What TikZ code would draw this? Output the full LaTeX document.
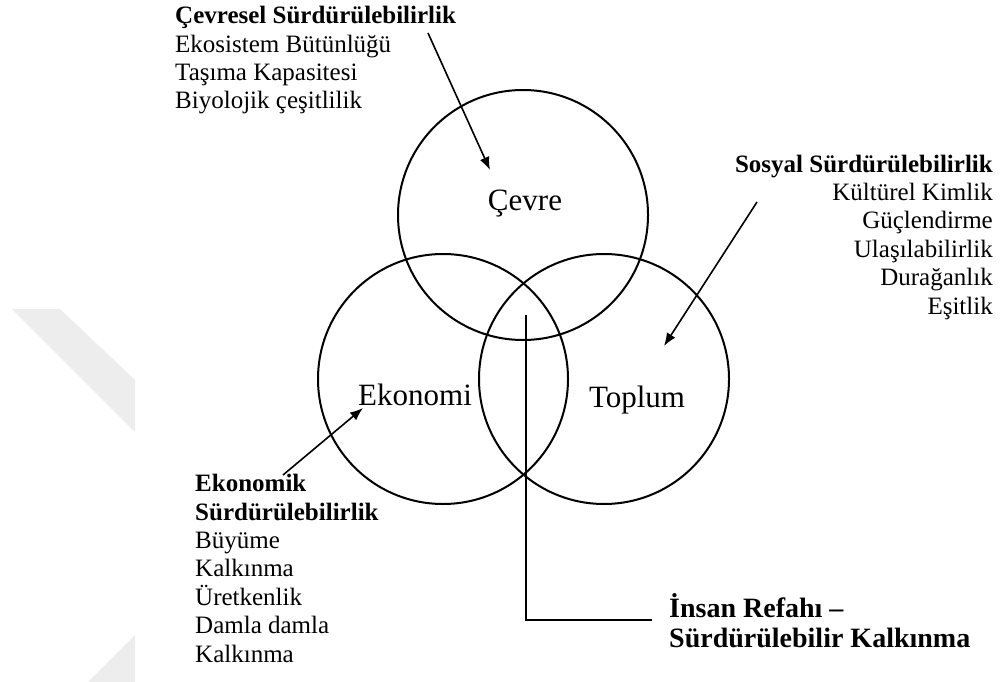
\documentclass[tikz,border=0pt]{standalone}
\usepackage{fontspec}
\setmainfont{Liberation Serif}
\usetikzlibrary{arrows.meta}
\begin{document}
\begin{tikzpicture}[x=1pt,y=-1pt]
  \definecolor{filigran}{gray}{0.93}
  \tikzstyle{halka}=[draw, circle, line width=2pt, minimum size=250pt, inner sep=0pt]
  \tikzstyle{etiket}=[font=\fontsize{31}{34}\selectfont, inner sep=0pt]
  \tikzstyle{liste}=[font=\fontsize{25}{28.4}\selectfont, inner sep=0pt]
  \tikzstyle{ok}=[-{Latex[length=13pt,width=10pt]}, line width=1.6pt]

  \useasboundingbox (0,0) rectangle (1003,682);

  % Soluk filigran, sol kenarda yarisi gorunen bir ok bicimi.
  \fill[filigran] (12,309) -- (60,309) -- (135,380) -- (135,432) -- cycle;
  \fill[filigran] (135,635) -- (88,682) -- (135,682) -- cycle;

  % Uc halka, yaricap 125, merkezler pikselden alindi.
  \node[halka] (cevre) at (523,215) {};
  \node[halka] (ekonomi) at (443,379) {};
  \node[halka] (toplum) at (604,379) {};

  \node[etiket, anchor=base] (cevrelab) at (525,210) {Çevre};
  \node[etiket, anchor=base west] (ekolab) at (358,405) {Ekonomi};
  \node[etiket, anchor=base] (toplab) at (637,407) {Toplum};

  % Yan listeler; base capasi son satirin taban cizgisinde durur.
  \node[liste, align=left, anchor=base west] (cevlist) at (175,109)
    {\textbf{Çevresel Sürdürülebilirlik}\\Ekosistem Bütünlüğü\\Taşıma Kapasitesi\\Biyolojik çeşitlilik};
  \node[liste, align=right, anchor=base east] (soslist) at (993,314)
    {\textbf{Sosyal Sürdürülebilirlik}\\Kültürel Kimlik\\Güçlendirme\\Ulaşılabilirlik\\Durağanlık\\Eşitlik};
  \node[liste, align=left, anchor=base west] (ekolist) at (195,662)
    {\textbf{Ekonomik}\\\textbf{Sürdürülebilirlik}\\Büyüme\\Kalkınma\\Üretkenlik\\Damla damla\\Kalkınma};
  \node[font=\fontsize{28}{30}\selectfont\bfseries, align=left, anchor=base west, inner sep=0pt] (refah) at (669,647)
    {İnsan Refahı –\\Sürdürülebilir Kalkınma};

  % Listelerden halkalara oklar
  \coordinate (cevbas) at (428,33);
  \coordinate (cevuc) at (490,170);
  \coordinate (sosbas) at (757,202);
  \coordinate (sosuc) at (664,346);
  \coordinate (ekobas) at (283,475);
  \coordinate (ekouc) at (363,408);
  \draw[ok] (cevbas) -- (cevuc);
  \draw[ok] (sosbas) -- (sosuc);
  \draw[ok] (ekobas) -- (ekouc);

  % Kesisimden asagi inen cizgi
  \coordinate (merkez) at (526,315);
  \draw[line width=2pt] (merkez) |- ([xshift=-17pt]refah.west);
\end{tikzpicture}
\end{document}
